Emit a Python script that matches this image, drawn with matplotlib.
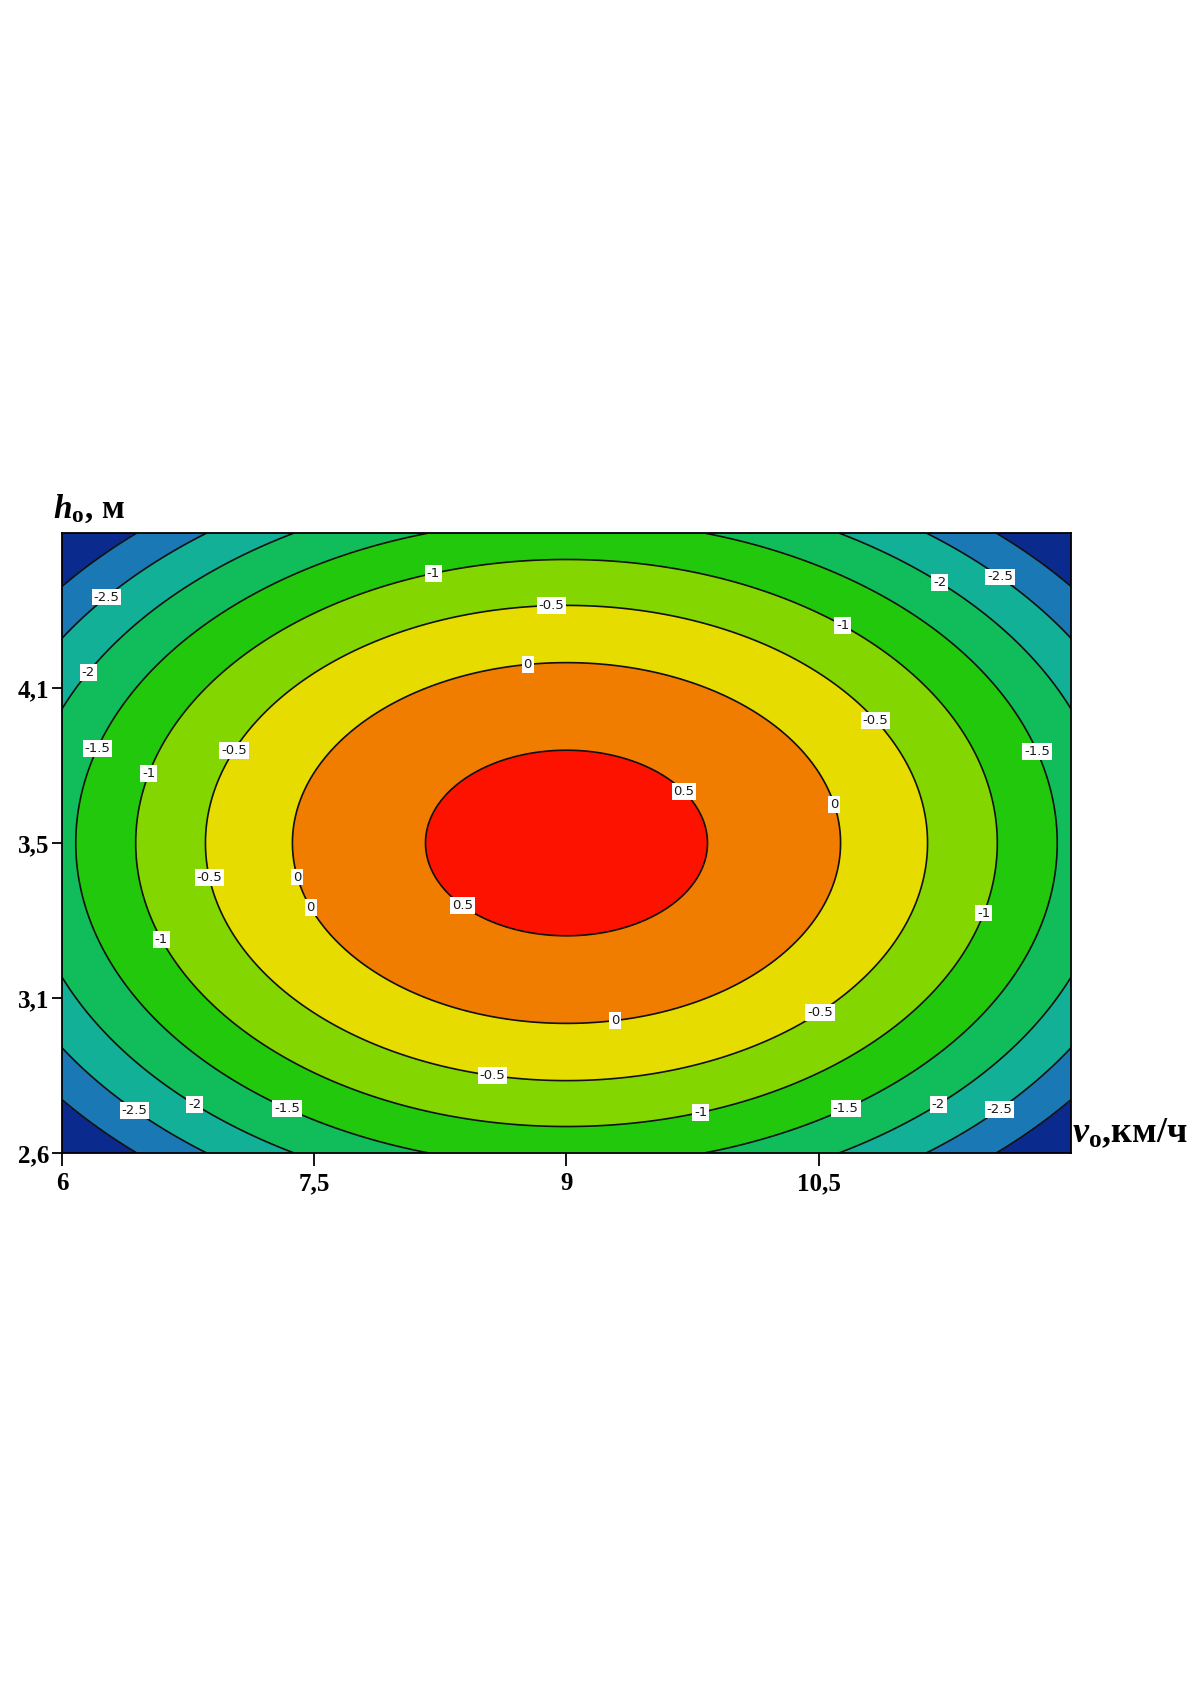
import numpy as np
import matplotlib.pyplot as plt
from matplotlib.colors import ListedColormap, BoundaryNorm

plt.rcParams['mathtext.fontset'] = 'custom'
plt.rcParams['mathtext.rm'] = 'Liberation Serif'
plt.rcParams['mathtext.bf'] = 'Liberation Serif:bold'
plt.rcParams['mathtext.it'] = 'Liberation Serif:italic:bold'
plt.rcParams['mathtext.bfit'] = 'Liberation Serif:italic:bold'

# область факторов
V_RANGE = [6.0, 12.0]
H_RANGE = [2.6, 4.4]

# коэффициенты поверхности отклика (оценены по рисунку)
B0 = 0.68      # значение в центре
B_VV = -0.256  # при (v - 9)^2
B_HH = -2.48   # при (h - 3.5)^2
V_C, H_C = 9.0, 3.5

LEVELS = [-4.0, -3.0, -2.5, -2.0, -1.5, -1.0, -0.5, 0.0, 0.5, 1.0]
BAND_COLORS = ['#0b2a8e', '#1a78b4', '#12b096', '#10bd5a', '#22c80c',
               '#84d600', '#e6dc00', '#f07c00', '#fd1200']

XTICKS = [6, 7.5, 9, 10.5]
XTICK_LABELS = ['6', '7,5', '9', '10,5']
YTICK_LABELS = ['2,6', '3,1', '3,5', '4,1']

# где стоят подписи изолиний (v, h)
LABEL_SPOTS = [
    (6.27, 4.21), (6.17, 3.99), (6.23, 3.77), (6.53, 3.70), (7.02, 3.77),
    (6.87, 3.40), (7.39, 3.40), (7.47, 3.31), (6.59, 3.22), (8.37, 3.31),
    (9.69, 3.645), (10.58, 3.61), (8.77, 4.01), (8.91, 4.18), (8.21, 4.275),
    (10.64, 4.13), (10.84, 3.857), (11.21, 4.25), (11.57, 4.267), (11.80, 3.767),
    (11.48, 3.297), (10.51, 3.006), (9.29, 2.98), (8.56, 2.826), (9.80, 2.716),
    (10.66, 2.73), (11.21, 2.742), (11.57, 2.73), (6.44, 2.73), (6.79, 2.742),
    (7.34, 2.73),
]

v = np.linspace(V_RANGE[0], V_RANGE[1], 301)
h = np.linspace(H_RANGE[0], H_RANGE[1], 201)
V, H = np.meshgrid(v, h)
Z = B0 + B_VV * (V - V_C) ** 2 + B_HH * (H - H_C) ** 2

fig = plt.figure(figsize=(11.9, 16.84), dpi=100)
ax = fig.add_axes([0.0521, 0.3153, 0.8479, 0.3682])

cmap = ListedColormap(BAND_COLORS)
norm = BoundaryNorm(LEVELS, cmap.N)
ax.contourf(V, H, Z, levels=LEVELS, cmap=cmap, norm=norm)
cs = ax.contour(V, H, Z, levels=LEVELS[1:-1], colors='#101010',
                linewidths=1.2, linestyles='solid')

texts = ax.clabel(cs, manual=LABEL_SPOTS, inline=False,
                  fmt=lambda val: f"{val:g}", fontsize=9.5)
for t in texts:
    t.set_rotation(0)
    t.set_family('DejaVu Sans')
    t.set_color('#1a1a1a')
    t.set_bbox(dict(facecolor='white', edgecolor='none', pad=1.3))

ax.set_xlim(V_RANGE)
ax.set_ylim(H_RANGE)
ax.set_xticks(XTICKS)
ax.set_xticklabels(XTICK_LABELS)
ax.set_yticks(np.linspace(H_RANGE[0], H_RANGE[1], 5)[:4])
ax.set_yticklabels(YTICK_LABELS)
for lab in ax.get_xticklabels() + ax.get_yticklabels():
    lab.set_family('Liberation Serif')
    lab.set_fontweight('bold')
    lab.set_fontsize(18)
ax.tick_params(axis='x', direction='out', length=9, width=1.3, pad=5)
ax.tick_params(axis='y', direction='out', length=7, width=1.3, pad=2)
for sp in ax.spines.values():
    sp.set_linewidth(1.3)

fig.text(0.0445, 0.6924, r'$\mathbfit{h}_{\mathbf{o}}$, м', family='Liberation Serif',
         fontweight='bold', fontsize=24, ha='left', va='baseline')
fig.text(0.9008, 0.3219, r'$\mathbfit{v}_{\mathbf{o}}$,км/ч', family='Liberation Serif',
         fontweight='bold', fontsize=26, ha='left', va='baseline')

fig.savefig('out.png', dpi=100)
